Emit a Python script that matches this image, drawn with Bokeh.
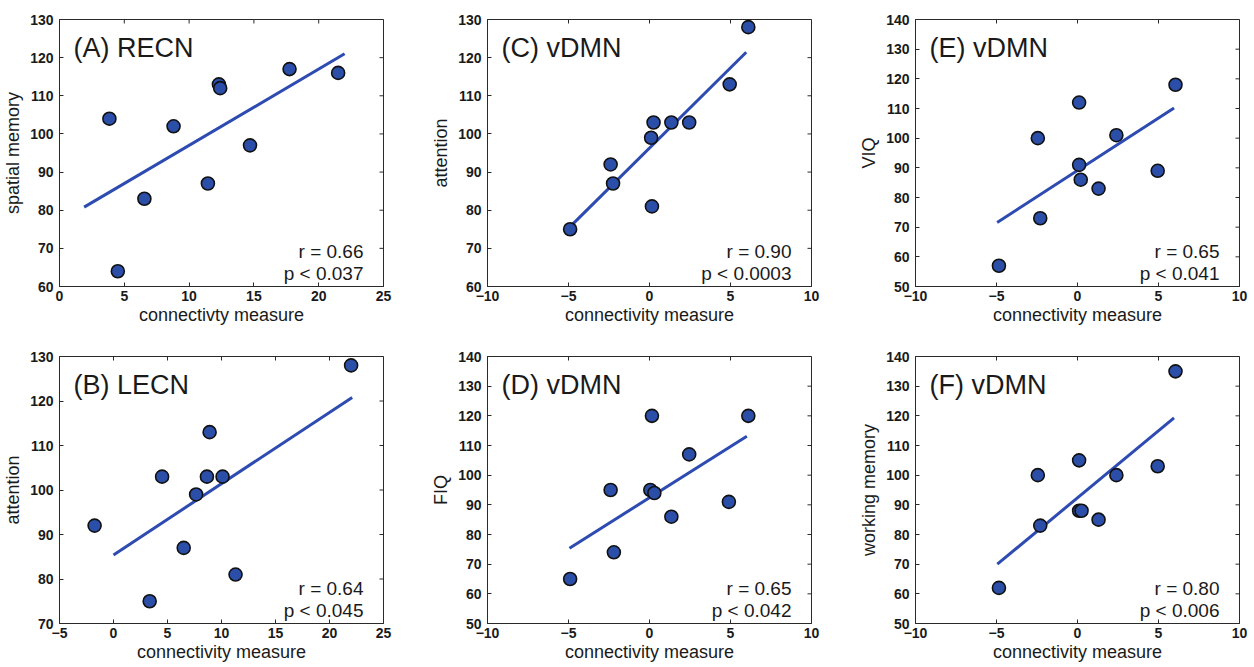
from bokeh.plotting import figure
from bokeh.layouts import column, row
from bokeh.models import Range1d, FixedTicker, Label
from bokeh.embed import file_html
from bokeh.resources import INLINE

# ---------------- data ----------------
# (A) RECN
a_x = [3.85, 4.5, 6.55, 8.8, 11.45, 12.3, 12.4, 14.7, 17.75, 21.5]
a_y = [104, 64, 83, 102, 87, 113, 112, 97, 117, 116]
a_fit_x = [1.9, 22.0]
a_fit_y = [80.8, 121.0]
# (B) LECN
b_x = [-1.75, 3.35, 4.5, 6.5, 7.65, 8.65, 8.9, 10.1, 11.3, 22.0]
b_y = [92, 75, 103, 87, 99, 103, 113, 103, 81, 128]
b_fit_x = [0.0, 22.1]
b_fit_y = [85.4, 120.8]
# (C) vDMN attention
c_x = [-4.9, -2.4, -2.25, 0.1, 0.25, 0.15, 1.35, 2.45, 4.95, 6.1]
c_y = [75, 92, 87, 99, 103, 81, 103, 103, 113, 128]
c_fit_x = [-4.85, 5.97]
c_fit_y = [75.9, 121.4]
# (D) vDMN FIQ
d_x = [-4.9, -2.4, -2.2, 0.15, 0.05, 0.3, 1.35, 2.45, 4.9, 6.1]
d_y = [65, 95, 74, 120, 95, 94, 86, 107, 91, 120]
d_fit_x = [-4.94, 6.01]
d_fit_y = [75.4, 113.1]
# (E) vDMN VIQ
e_x = [-4.85, -2.45, -2.3, 0.1, 0.1, 0.2, 1.3, 2.4, 4.95, 6.05]
e_y = [57, 100, 73, 112, 91, 86, 83, 101, 89, 118]
e_fit_x = [-4.96, 5.96]
e_fit_y = [71.6, 110.2]
# (F) vDMN working memory
f_x = [-4.85, -2.45, -2.3, 0.1, 0.1, 0.25, 1.3, 2.4, 4.95, 6.05]
f_y = [62, 100, 83, 105, 88, 88, 85, 100, 103, 135]
f_fit_x = [-4.95, 5.96]
f_fit_y = [70.0, 119.3]

titles = ["(A) RECN", "(B) LECN", "(C) vDMN", "(D) vDMN", "(E) vDMN", "(F) vDMN"]
y_labels = ["spatial memory", "attention", "attention", "FIQ", "VIQ", "working memory"]
x_labels = ["connectivty measure", "connectivity measure", "connectivity measure",
            "connectivity measure", "connectivity measure", "connectivity measure"]
r_texts = ["r = 0.66", "r = 0.64", "r = 0.90", "r = 0.65", "r = 0.65", "r = 0.80"]
p_texts = ["p < 0.037", "p < 0.045", "p < 0.0003", "p < 0.042", "p < 0.041", "p < 0.006"]

a_xticks = [0, 5, 10, 15, 20, 25]
b_xticks = [-5, 0, 5, 10, 15, 20, 25]
v_xticks = [-10, -5, 0, 5, 10]
yticks_60_130 = [60, 70, 80, 90, 100, 110, 120, 130]
yticks_70_130 = [70, 80, 90, 100, 110, 120, 130]
yticks_50_140 = [50, 60, 70, 80, 90, 100, 110, 120, 130, 140]

# ---------------- style ----------------
FONT = "Liberation Sans"
TXT = "#1a1a1a"
AX = "#2a2a2a"
FW, FH = 324, 267
TICK = 4
MARK_FILL = "#2b4ea8"
LINE_COL = "#2d4bb0"


def panel(xs, ys, fx, fy, xticks, yticks, idx, left, right, top, bottom):
    x0, x1 = xticks[0], xticks[-1]
    y0, y1 = yticks[0], yticks[-1]
    p = figure(frame_width=FW, frame_height=FH,
               x_range=Range1d(x0, x1), y_range=Range1d(y0, y1),
               output_backend="svg", toolbar_location=None,
               min_border_left=left, min_border_right=right,
               min_border_top=top, min_border_bottom=bottom,
               background_fill_color="white", border_fill_color="white")
    p.xgrid.grid_line_color = None
    p.ygrid.grid_line_color = None
    p.outline_line_color = AX
    p.outline_line_width = 1

    for ax in (p.xaxis[0], p.yaxis[0]):
        ax.major_tick_in = TICK
        ax.major_tick_out = 0
        ax.minor_tick_line_color = None
        ax.axis_line_color = AX
        ax.major_tick_line_color = AX
        ax.major_label_text_font = FONT
        ax.major_label_text_font_size = "14px"
        ax.major_label_text_font_style = "bold"
        ax.major_label_text_color = TXT
        ax.axis_label_text_font = FONT
        ax.axis_label_text_font_size = "18px"
        ax.axis_label_text_font_style = "normal"
        ax.axis_label_text_color = TXT
    p.xaxis[0].ticker = FixedTicker(ticks=xticks)
    p.yaxis[0].ticker = FixedTicker(ticks=yticks)
    p.xaxis[0].axis_label = x_labels[idx]
    p.yaxis[0].axis_label = y_labels[idx]
    p.xaxis[0].major_label_standoff = 4
    p.yaxis[0].major_label_standoff = 6
    p.xaxis[0].axis_label_standoff = 1
    p.yaxis[0].axis_label_standoff = 4

    # mirrored inward ticks on top and right (MATLAB box style)
    dy = TICK * (y1 - y0) / FH
    dx = TICK * (x1 - x0) / FW
    p.segment(x0=xticks, y0=[y1] * len(xticks), x1=xticks, y1=[y1 - dy] * len(xticks),
              line_color=AX, line_width=1)
    p.segment(x0=[x1] * len(yticks), y0=yticks, x1=[x1 - dx] * len(yticks), y1=yticks,
              line_color=AX, line_width=1)

    p.line(fx, fy, line_width=3, line_color=LINE_COL)
    p.scatter(xs, ys, size=13, fill_color=MARK_FILL, line_color="#111111", line_width=1.6)

    p.add_layout(Label(x=14, y=FH - 13, x_units="screen", y_units="screen",
                       text=titles[idx], text_font=FONT, text_font_size="27px",
                       text_color=TXT, text_baseline="top", text_align="left"))
    p.add_layout(Label(x=FW - 20, y=35, x_units="screen", y_units="screen",
                       text=r_texts[idx], text_font=FONT, text_font_size="19px",
                       text_color=TXT, text_baseline="alphabetic", text_align="right"))
    p.add_layout(Label(x=FW - 20, y=13, x_units="screen", y_units="screen",
                       text=p_texts[idx], text_font=FONT, text_font_size="19px",
                       text_color=TXT, text_baseline="alphabetic", text_align="right"))
    return p


pA = panel(a_x, a_y, a_fit_x, a_fit_y, a_xticks, yticks_60_130, 0, 55, 45, 19, 45)
pC = panel(c_x, c_y, c_fit_x, c_fit_y, v_xticks, yticks_60_130, 2, 58, 45, 19, 45)
pE = panel(e_x, e_y, e_fit_x, e_fit_y, v_xticks, yticks_50_140, 4, 59, 11, 19, 45)
pB = panel(b_x, b_y, b_fit_x, b_fit_y, b_xticks, yticks_70_130, 1, 55, 45, 25, 42)
pD = panel(d_x, d_y, d_fit_x, d_fit_y, v_xticks, yticks_50_140, 3, 58, 45, 25, 42)
pF = panel(f_x, f_y, f_fit_x, f_fit_y, v_xticks, yticks_50_140, 5, 59, 11, 25, 42)

layout = column(row(pA, pC, pE), row(pB, pD, pF))

open("out.html", "w").write(file_html(layout, INLINE))
